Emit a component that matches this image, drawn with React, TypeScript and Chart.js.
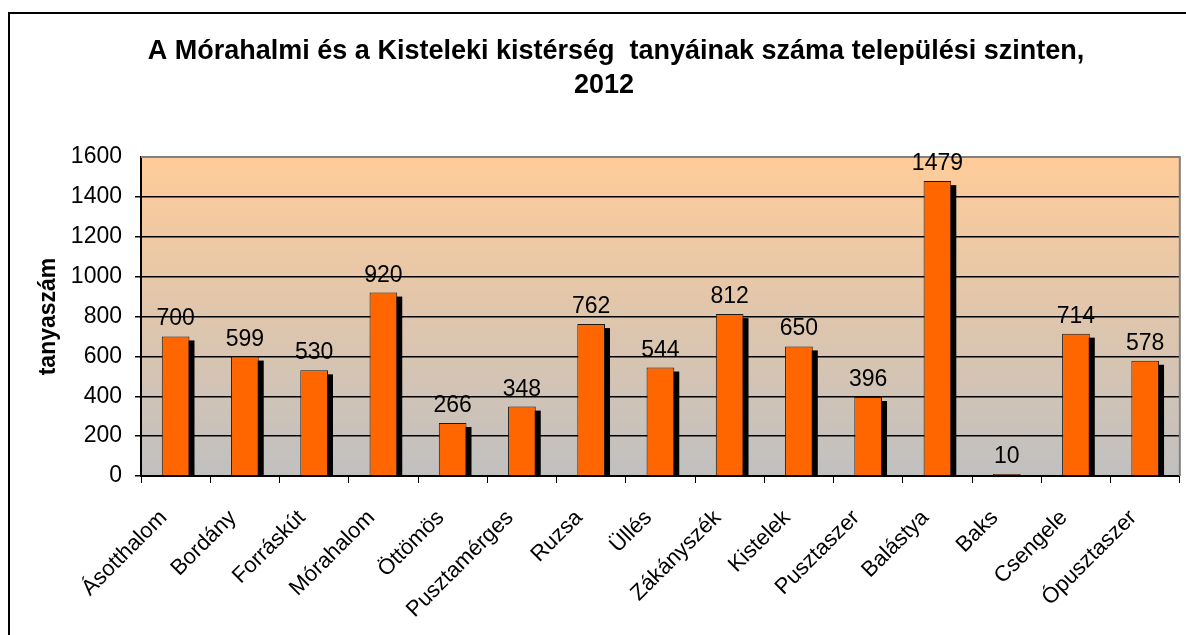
import React, { useEffect, useRef } from "react";
import { Chart, registerables } from "chart.js";

Chart.register(...registerables);

const categories = [
  "Ásotthalom", "Bordány", "Forráskút", "Mórahalom", "Öttömös", "Pusztamérges",
  "Ruzsa", "Üllés", "Zákányszék", "Kistelek", "Pusztaszer", "Balástya", "Baks",
  "Csengele", "Ópusztaszer",
];
const tanyaszam = [700, 599, 530, 920, 266, 348, 762, 544, 812, 650, 396, 1479, 10, 714, 578];
const titleLines = [
  "A Mórahalmi és a Kisteleki kistérség  tanyáinak száma települési szinten,",
  "2012",
];
const yAxisTitle = "tanyaszám";
const yMin = 0;
const yMax = 1600;
const yStep = 200;

const FONT = "'Liberation Sans', Arial, sans-serif";

export default function App() {
  const ref = useRef<HTMLCanvasElement | null>(null);

  useEffect(() => {
    const canvas = ref.current;
    if (!canvas) return;

    const decorPlugin = {
      id: "decor",
      beforeDraw(chart: any) {
        const { ctx, chartArea: a } = chart;
        ctx.save();
        ctx.fillStyle = "#ffffff";
        ctx.fillRect(0, 0, chart.width, chart.height);
        // outer border
        ctx.strokeStyle = "#000";
        ctx.lineWidth = 2;
        ctx.strokeRect(9, 13, 1300, 800);
        // plot gradient
        const g = ctx.createLinearGradient(0, a.top, 0, a.bottom);
        g.addColorStop(0, "#FFCC99");
        g.addColorStop(1, "#C0C0C0");
        ctx.fillStyle = g;
        ctx.fillRect(a.left, a.top, a.right - a.left, a.bottom - a.top);
        // title
        ctx.fillStyle = "#000";
        ctx.font = `bold 27px ${FONT}`;
        ctx.textAlign = "center";
        ctx.textBaseline = "alphabetic";
        ctx.fillText(titleLines[0], 616, 59);
        ctx.fillText(titleLines[1], 604, 93);
        // y axis title
        ctx.save();
        ctx.translate(55, (a.top + a.bottom) / 2);
        ctx.rotate(-Math.PI / 2);
        ctx.font = `bold 23px ${FONT}`;
        ctx.fillText(yAxisTitle, 0, 0);
        ctx.restore();
        ctx.restore();
      },
      beforeDatasetsDraw(chart: any) {
        const { ctx } = chart;
        const meta = chart.getDatasetMeta(0);
        ctx.save();
        ctx.fillStyle = "#000";
        meta.data.forEach((bar: any) => {
          const p = bar.getProps(["x", "y", "base", "width"], true);
          const h = p.base - p.y - 4;
          if (h > 0) ctx.fillRect(p.x - p.width / 2 + 5, p.y + 4, p.width, h);
        });
        ctx.restore();
      },
      afterDatasetsDraw(chart: any) {
        const { ctx, chartArea: a } = chart;
        const meta = chart.getDatasetMeta(0);
        ctx.save();
        // plot border top/right in gray
        ctx.strokeStyle = "#808080";
        ctx.lineWidth = 2;
        ctx.beginPath();
        ctx.moveTo(a.left, a.top);
        ctx.lineTo(a.right, a.top);
        ctx.lineTo(a.right, a.bottom);
        ctx.stroke();
        // value labels
        ctx.fillStyle = "#000";
        ctx.font = `23px ${FONT}`;
        ctx.textAlign = "center";
        ctx.textBaseline = "alphabetic";
        meta.data.forEach((bar: any, i: number) => {
          const p = bar.getProps(["x", "y"], true);
          ctx.fillText(String(tanyaszam[i]), p.x, p.y - 11);
        });
        ctx.restore();
      },
    };

    const chart = new Chart(canvas, {
      type: "bar",
      data: {
        labels: categories,
        datasets: [
          {
            data: tanyaszam,
            backgroundColor: "#FF6600",
            borderColor: "#1a1a1a",
            borderWidth: 1,
            barPercentage: 0.8,
            categoryPercentage: 0.5,
          },
        ],
      },
      options: {
        responsive: false,
        animation: false,
        devicePixelRatio: 1,
        layout: { padding: { top: 157, right: 4, left: 0, bottom: 0 } },
        plugins: {
          legend: { display: false },
          title: { display: false },
          tooltip: { enabled: false },
        },
        scales: {
          x: {
            afterFit(scale: any) {
              scale.height = 159;
            },
            grid: {
              offset: true,
              drawOnChartArea: false,
              drawTicks: true,
              tickLength: 7,
              color: "#000",
            },
            border: { display: true, color: "#000", width: 2 },
            ticks: {
              color: "#000",
              font: { family: FONT, size: 22 },
              maxRotation: 45,
              minRotation: 45,
              autoSkip: false,
              padding: 22,
              labelOffset: -12,
            },
          },
          y: {
            min: yMin,
            max: yMax,
            afterFit(scale: any) {
              scale.width = 141;
            },
            grid: {
              color: (c: any) => (c.tick && c.tick.value === yMax ? "rgba(0,0,0,0)" : "#000"),
              lineWidth: 1.5,
              tickLength: 6,
              drawTicks: true,
            },
            border: { display: true, color: "#000", width: 2 },
            ticks: {
              stepSize: yStep,
              color: "#000",
              font: { family: FONT, size: 23 },
              padding: 13,
              callback: (v: any) => String(v),
            },
          },
        },
      },
      plugins: [decorPlugin],
    });

    return () => chart.destroy();
  }, []);

  return (
    <div style={{ position: "fixed", left: 0, top: 0, width: 1186, height: 635, background: "#fff" }}>
      <canvas ref={ref} width={1186} height={635} style={{ display: "block" }} />
    </div>
  );
}
